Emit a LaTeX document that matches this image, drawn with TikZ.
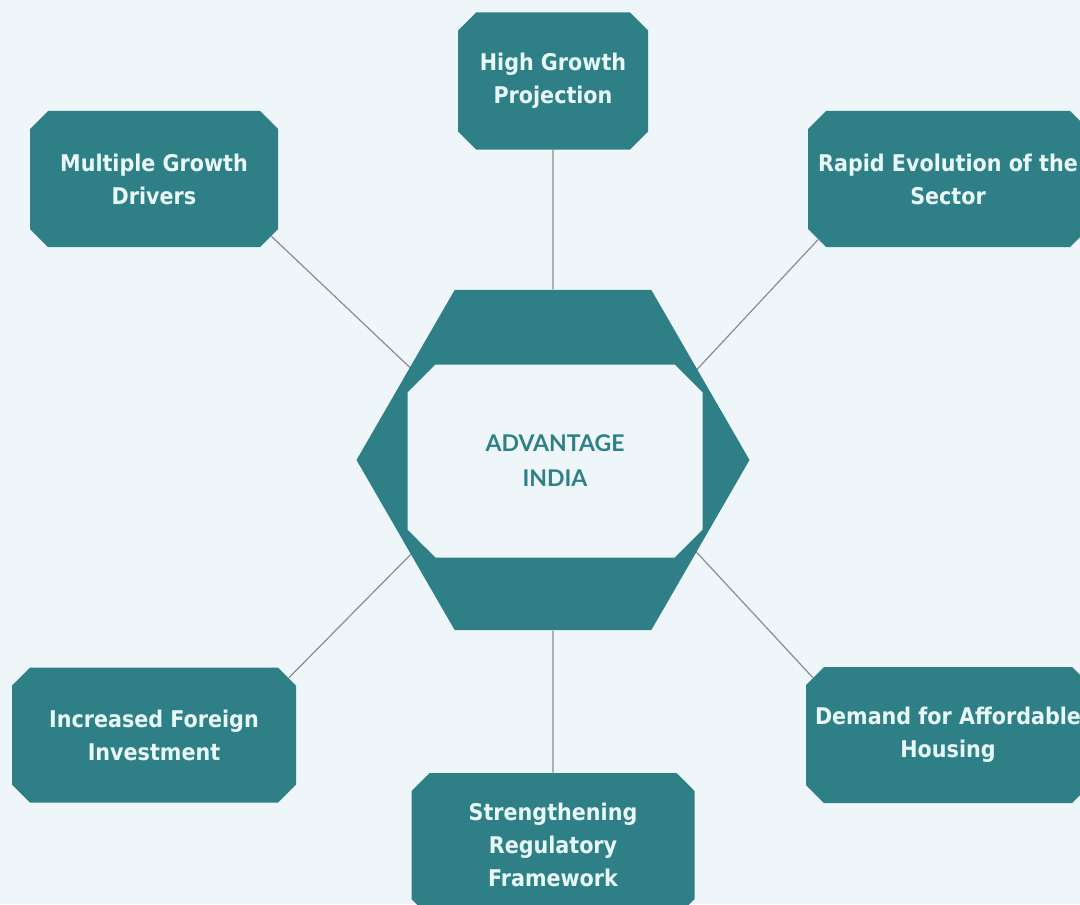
\documentclass[tikz,border=0pt]{standalone}
\usepackage{fontspec}
\setmainfont{DejaVu Sans Condensed}
\newfontfamily\latofont{Lato}
\usetikzlibrary{shapes.misc,shapes.geometric}

\definecolor{pagebg}{RGB}{238,246,249}
\definecolor{tealbox}{RGB}{46,128,134}
\definecolor{boxtext}{RGB}{232,248,248}
\definecolor{linkgray}{RGB}{140,140,140}

\pgfdeclarelayer{back}
\pgfsetlayers{back,main}

\begin{document}
\begin{tikzpicture}[x=0.5pt,y=-0.5pt,
    box/.style={chamfered rectangle, chamfered rectangle xsep=4.5pt,
      chamfered rectangle ysep=4.5pt, fill=tealbox, inner sep=0pt,
      text=boxtext, align=center, font=\bfseries\fontsize{11.5}{16.5}\selectfont},
    link/.style={draw=linkgray, line width=0.6pt}]
  \useasboundingbox (0,0) rectangle (1080,904);

  % six drivers round the centre
  \node(hg) at (553,81) [box, minimum width=95pt, minimum height=68.5pt] {High Growth\\Projection};
  \node(md) at (154,179) [box, minimum width=124pt, minimum height=68pt] {Multiple Growth\\Drivers};
  \node(re) at (948,179) [box, minimum width=140pt, minimum height=68pt] {Rapid Evolution of the\\Sector};
  \node(fi) at (154,735) [box, minimum width=142pt, minimum height=67.5pt] {Increased Foreign\\Investment};
  \node(ah) at (948,735) [box, minimum width=140pt, minimum height=68pt] {Demand for Affordable\\Housing};
  \node(sr) at (553,845) [box, minimum width=141.5pt, minimum height=72pt] {Strengthening\\Regulatory\\Framework};

  % hexagon with the white core
  \node(hex) at (553,460) [regular polygon, regular polygon sides=6, minimum size=196.5pt,
    inner sep=0pt, fill=tealbox] {};
  \node(core) at (555,461) [chamfered rectangle, chamfered rectangle xsep=7pt,
    chamfered rectangle ysep=7pt, minimum width=147.5pt, minimum height=96.5pt,
    inner sep=0pt, fill=pagebg, text=tealbox, align=center,
    font=\latofont\bfseries\fontsize{11.5}{17.5}\selectfont] {ADVANTAGE\\INDIA};

  \begin{pgfonlayer}{back}
    \fill[pagebg] (0,0) rectangle (1080,904);
    \draw (hg) edge[link] (hex);
    \draw (sr) edge[link] (hex);
    \draw (md.-26) edge[link] (core.north west);
    \draw (re.205) edge[link] (core.north east);
    \draw (fi.23) edge[link] (core.south west);
    \draw (ah.157) edge[link] (core.south east);
  \end{pgfonlayer}
\end{tikzpicture}
\end{document}
